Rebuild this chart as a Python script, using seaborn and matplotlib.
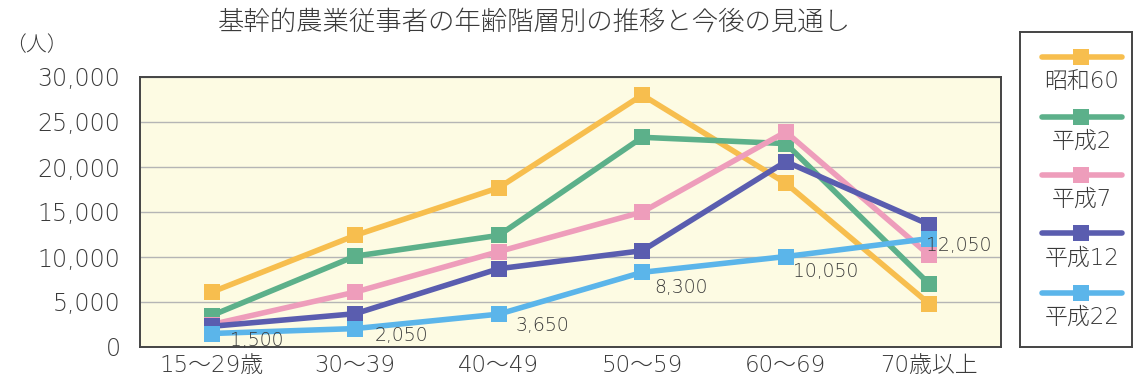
import matplotlib
matplotlib.use("Agg")
import matplotlib.pyplot as plt
import seaborn as sns
import pandas as pd
from matplotlib.lines import Line2D

# ---- data ----
categories = ["15～29歳", "30～39", "40～49", "50～59", "60～69", "70歳以上"]
series_names = ["昭和60", "平成2", "平成7", "平成12", "平成22"]
s_showa60 = [6100, 12400, 17700, 28000, 18200, 4800]
s_heisei2 = [3500, 10100, 12400, 23300, 22600, 7000]
s_heisei7 = [2500, 6100, 10600, 15000, 23900, 10200]
s_heisei12 = [2300, 3700, 8700, 10700, 20600, 13600]
s_heisei22 = [1500, 2050, 3650, 8300, 10050, 12050]
label_texts = ["1,500", "2,050", "3,650", "8,300", "10,050", "12,050"]
y_ticks = [0, 5000, 10000, 15000, 20000, 25000, 30000]
y_tick_labels = ["0", "5,000", "10,000", "15,000", "20,000", "25,000", "30,000"]

colors = ["#F7BE4E", "#5CB08A", "#EE9DBB", "#5A5DAF", "#5BB5EA"]

all_series = [s_showa60, s_heisei2, s_heisei7, s_heisei12, s_heisei22]
rows = []
for name, vals in zip(series_names, all_series):
    for i, (c, v) in enumerate(zip(categories, vals)):
        rows.append({"cat": c, "x": i, "value": v, "series": name})
df = pd.DataFrame(rows)

sns.set_theme(style="white")
plt.rcParams["font.family"] = ["DejaVu Sans", "Noto Sans CJK JP"]
TXT = "#3A3A3A"
W = "light"

fig = plt.figure(figsize=(11.33, 3.84), dpi=100)
ax = fig.add_axes([140 / 1133, 1 - 347 / 384, 861 / 1133, 270 / 384])
ax.set_facecolor("#FDFBE3")

sns.lineplot(data=df, x="x", y="value", hue="series", hue_order=series_names,
             palette=colors, marker="s", markersize=11, markeredgewidth=0,
             linewidth=4, dashes=False, legend=False, ax=ax, zorder=3)

ax.set_xlim(-0.5, 5.5)
ax.set_ylim(0, 30000)
ax.set_yticks(y_ticks)
ax.set_yticklabels(y_tick_labels, fontsize=17, color=TXT, fontweight=W)
ax.set_xticks(range(len(categories)))
ax.set_xticklabels(categories, fontsize=16.5, color=TXT, fontweight=W)
ax.set_xticks([i + 0.5 for i in range(len(categories) - 1)], minor=True)
ax.tick_params(axis="x", which="major", length=0, pad=5)
ax.tick_params(axis="x", which="minor", direction="in", length=6, width=1, color="#444444")
ax.tick_params(axis="y", length=0, pad=14)
ax.set_xlabel("")
ax.set_ylabel("")
ax.yaxis.grid(True, color="#B5B5B5", linewidth=1)
ax.xaxis.grid(False)
for sp in ax.spines.values():
    sp.set_color("#444444")
    sp.set_linewidth(1.4)

# value labels for 平成22
offsets = [(13, -5), (14, -5), (12, -8), (9, -11), (5, -11), (-2, -5)]
for i, (v, t) in enumerate(zip(s_heisei22, label_texts)):
    ax.annotate(t, (i, v), xytext=offsets[i], textcoords="offset points",
                ha="left", va="center", fontsize=13.5, color=TXT, fontweight=W,
                zorder=5)

fig.text(534 / 1133, 1 - 22 / 384, "基幹的農業従事者の年齢階層別の推移と今後の見通し",
         ha="center", va="center", fontsize=19, color=TXT, fontweight=W)
fig.text(36 / 1133, 1 - 45 / 384, "（人）", ha="center", va="center",
         fontsize=15, color=TXT, fontweight=W)

# legend box
lax = fig.add_axes([1020 / 1133, 1 - 347 / 384, 112 / 1133, 315 / 384])
lax.set_xlim(1020, 1132)
lax.set_ylim(347, 32)
lax.set_xticks([])
lax.set_yticks([])
lax.set_facecolor("white")
for sp in lax.spines.values():
    sp.set_color("#444444")
    sp.set_linewidth(1.4)
line_y = [57, 117, 175, 233, 293]
text_y = [81, 141, 199, 258, 317]
for name, col, ly, ty in zip(series_names, colors, line_y, text_y):
    lax.add_line(Line2D([1042, 1122], [ly, ly], color=col, linewidth=4,
                        solid_capstyle="round"))
    lax.add_line(Line2D([1081], [ly], color=col, marker="s", markersize=11,
                        markeredgewidth=0))
    lax.text(1082, ty, name, ha="center", va="center", fontsize=16.5, color=TXT,
             fontweight=W)

fig.savefig("out.png", dpi=100)
